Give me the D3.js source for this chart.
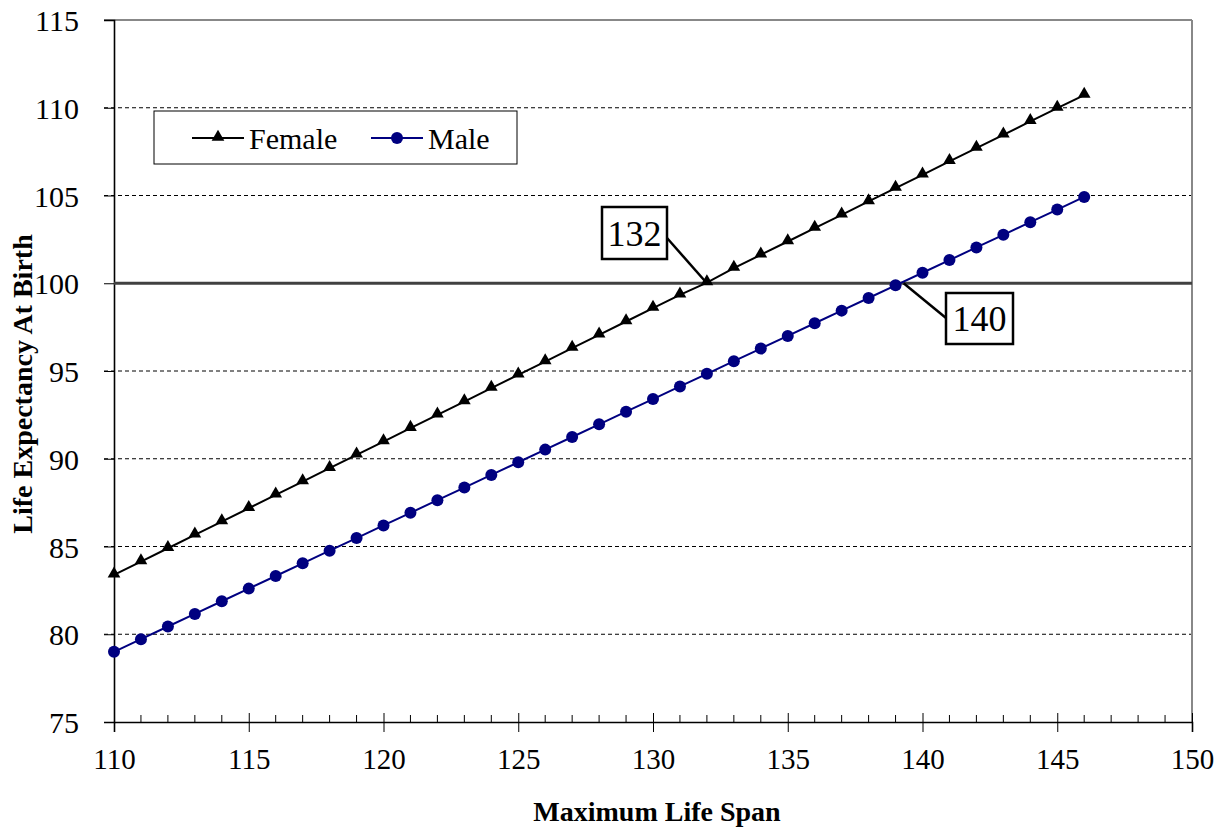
<!DOCTYPE html>
<html><head><meta charset="utf-8">
<script src="https://cdn.jsdelivr.net/npm/d3@7"></script>
<style>body{margin:0;background:#fff}svg{display:block}text{font-family:"Liberation Serif","Times New Roman",serif}</style>
</head><body>
<script>
const maxLifeSpan = d3.range(110, 147);
const femaleLE = [83.38,84.14,84.90,85.66,86.42,87.18,87.94,88.70,89.46,90.22,90.98,91.74,92.50,93.26,94.02,94.78,95.54,96.30,97.06,97.82,98.58,99.34,100.04,100.86,101.62,102.38,103.14,103.90,104.66,105.42,106.18,106.94,107.70,108.46,109.22,109.98,110.72];
const maleLE = [79.00,79.72,80.44,81.16,81.88,82.60,83.32,84.04,84.76,85.48,86.20,86.92,87.64,88.36,89.08,89.80,90.52,91.24,91.96,92.68,93.40,94.12,94.84,95.56,96.28,97.00,97.72,98.44,99.16,99.88,100.60,101.32,102.04,102.76,103.48,104.20,104.92];
const xTicks = [110,115,120,125,130,135,140,145,150];
const yTicks = [75,80,85,90,95,100,105,110,115];
const seriesNames = ["Female","Male"];
const callouts = [{label:"132", x:132, y:100}, {label:"140", x:139.3, y:100}];

const W=1225,H=829;
const L=114,R=1192,T=20,B=722;
const svg=d3.select("body").append("svg").attr("width",W).attr("height",H);
const x=d3.scaleLinear().domain([110,150]).range([L,R]);
const y=d3.scaleLinear().domain([75,115]).range([B,T]);

// gridlines
svg.append("g").selectAll("line").data(yTicks.filter(v=>v!==75&&v!==115&&v!==100)).join("line")
 .attr("x1",L-10).attr("x2",R).attr("y1",d=>y(d)).attr("y2",d=>y(d))
 .attr("stroke","#000").attr("stroke-width",1).attr("stroke-dasharray","4,3");
// top border & right border
svg.append("line").attr("x1",L-10).attr("x2",R).attr("y1",y(115)).attr("y2",y(115)).attr("stroke","#888").attr("stroke-width",2);
svg.append("line").attr("x1",R).attr("x2",R).attr("y1",T).attr("y2",B).attr("stroke","#888").attr("stroke-width",2);

// y axis
const yAxis=d3.axisLeft(y).tickValues(yTicks).tickSize(10).tickPadding(25).tickFormat(d3.format("d"));
const gy=svg.append("g").attr("transform",`translate(${L},0)`).call(yAxis);
gy.select(".domain").attr("stroke","#000").attr("stroke-width",1.6);
gy.selectAll(".tick line").attr("stroke","#000");
gy.selectAll("text").attr("font-size",30).attr("fill","#000").attr("dy","0.35em");

// x axis major
const xAxis=d3.axisBottom(x).tickValues(xTicks).tickSize(10).tickPadding(16).tickFormat(d3.format("d"));
const gx=svg.append("g").attr("transform",`translate(0,${B})`).call(xAxis);
gx.select(".domain").attr("stroke","#000").attr("stroke-width",1.6);
gx.selectAll(".tick line").attr("stroke","#000").attr("y1",-9);
gx.selectAll("text").attr("font-size",29).attr("fill","#000");
// minor ticks (inside)
const minor=d3.range(110,151).filter(v=>v%5!==0);
svg.append("g").selectAll("line").data(minor).join("line")
 .attr("x1",d=>x(d)).attr("x2",d=>x(d)).attr("y1",B-7).attr("y2",B).attr("stroke","#000");

// 100 line
svg.append("line").attr("x1",L).attr("x2",R).attr("y1",y(100)).attr("y2",y(100)).attr("stroke","#404040").attr("stroke-width",3);

const line=d3.line().x((d,i)=>x(maxLifeSpan[i])).y(d=>y(d));
svg.append("path").datum(femaleLE).attr("d",line).attr("fill","none").attr("stroke","#000").attr("stroke-width",2);
svg.append("path").datum(maleLE).attr("d",line).attr("fill","none").attr("stroke","#000080").attr("stroke-width",2);
const tri=d3.symbol().type(d3.symbolTriangle).size(70);
svg.append("g").selectAll("path").data(femaleLE).join("path")
 .attr("d",tri).attr("transform",(d,i)=>`translate(${x(maxLifeSpan[i])},${y(d)-1})`).attr("fill","#000");
svg.append("g").selectAll("circle").data(maleLE).join("circle")
 .attr("cx",(d,i)=>x(maxLifeSpan[i])).attr("cy",d=>y(d)).attr("r",6).attr("fill","#000080");

// callouts
function callout(c,bx,by,bw,bh,lx1,ly1){
  svg.append("line").attr("x1",lx1).attr("y1",ly1).attr("x2",x(c.x)).attr("y2",y(c.y)).attr("stroke","#000").attr("stroke-width",2.5);
  svg.append("rect").attr("x",bx).attr("y",by).attr("width",bw).attr("height",bh).attr("fill","#fff").attr("stroke","#000").attr("stroke-width",2.5);
  svg.append("text").attr("x",bx+bw/2).attr("y",by+bh/2).attr("dy","0.35em").attr("text-anchor","middle").attr("font-size",36).text(c.label);
}
callout(callouts[0],602,207,65,52,667,238);
callout(callouts[1],946,293,67,51,946,318);

// legend
const lg=svg.append("g");
lg.append("rect").attr("x",154).attr("y",111).attr("width",363).attr("height",53).attr("fill","#fff").attr("stroke","#000").attr("stroke-width",1);
lg.append("line").attr("x1",192).attr("x2",244).attr("y1",138).attr("y2",138).attr("stroke","#000").attr("stroke-width",2);
lg.append("path").attr("d",tri).attr("transform","translate(218,137)").attr("fill","#000");
lg.append("text").attr("x",249).attr("y",138).attr("dy","0.35em").attr("font-size",30).text(seriesNames[0]);
lg.append("line").attr("x1",371).attr("x2",423).attr("y1",138).attr("y2",138).attr("stroke","#000080").attr("stroke-width",2);
lg.append("circle").attr("cx",397).attr("cy",138).attr("r",6).attr("fill","#000080");
lg.append("text").attr("x",428).attr("y",138).attr("dy","0.35em").attr("font-size",30).text(seriesNames[1]);

// titles
svg.append("text").attr("x",657).attr("y",821).attr("text-anchor","middle").attr("font-size",28).attr("font-weight","bold").text("Maximum Life Span");
svg.append("text").attr("transform","translate(32,384) rotate(-90)").attr("text-anchor","middle").attr("font-size",28).attr("font-weight","bold").text("Life Expectancy At Birth");
</script>
</body></html>
